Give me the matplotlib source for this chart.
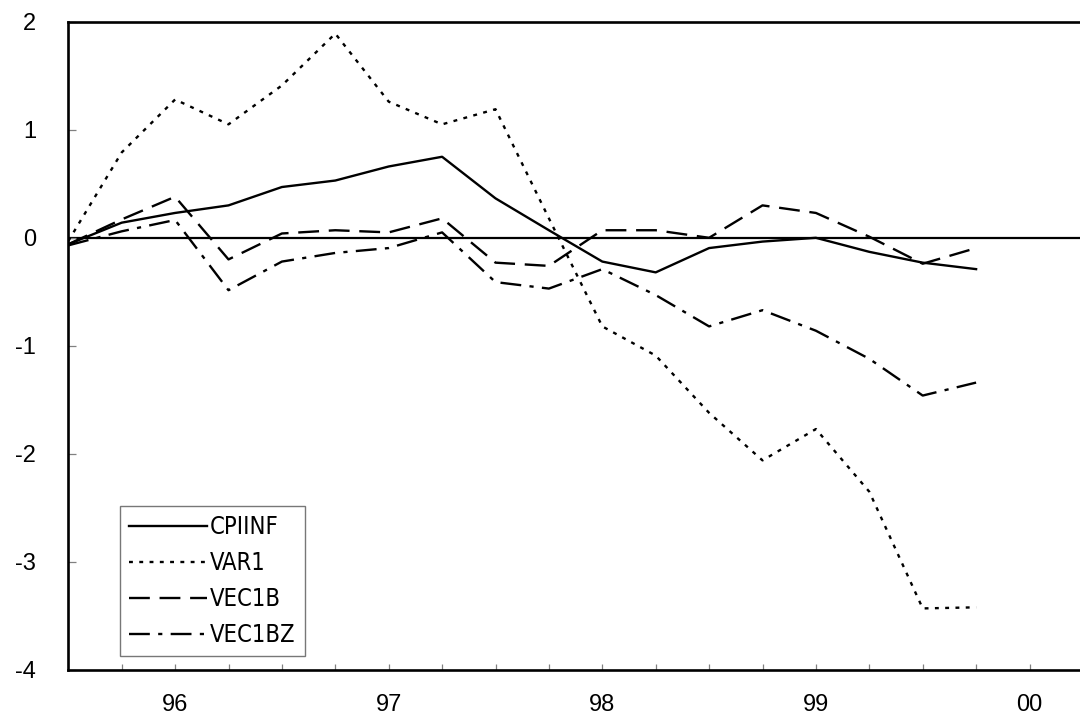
import matplotlib
matplotlib.use("Agg")
import matplotlib.pyplot as plt
from matplotlib.ticker import FixedLocator

# Quarterly observations, 1995Q3 .. 1999Q4 (index 0 = 1995Q3)
quarters = list(range(18))
year_tick_pos = [2, 6, 10, 14, 18]
year_labels = ["96", "97", "98", "99", "00"]
minor_tick_pos = [1, 3, 4, 5, 7, 8, 9, 11, 12, 13, 15, 16, 17]
y_ticks = [-4, -3, -2, -1, 0, 1, 2]

CPIINF = [-0.06, 0.14, 0.23, 0.30, 0.47, 0.53, 0.66, 0.75, 0.365, 0.07,
          -0.22, -0.32, -0.095, -0.035, 0.0, -0.13, -0.23, -0.29]
VAR1 = [-0.03, 0.79, 1.28, 1.05, 1.41, 1.89, 1.26, 1.05, 1.19, 0.18,
        -0.82, -1.09, -1.62, -2.06, -1.77, -2.35, -3.43, -3.42]
VEC1B = [-0.06, 0.17, 0.38, -0.20, 0.04, 0.07, 0.05, 0.18, -0.23, -0.26,
         0.07, 0.07, 0.0, 0.30, 0.23, 0.01, -0.24, -0.095]
VEC1BZ = [-0.07, 0.06, 0.165, -0.485, -0.22, -0.14, -0.095, 0.05, -0.41, -0.47,
          -0.29, -0.53, -0.82, -0.67, -0.86, -1.12, -1.46, -1.34]

plt.rcParams['font.family'] = ['Liberation Sans', 'DejaVu Sans']
plt.rcParams['lines.scale_dashes'] = False

W, H = 1080, 717
fig = plt.figure(figsize=(W / 100, H / 100), dpi=100)
x0, ytop, ybot = 68.3, 21.7, 670.0
qw = 53.4
ax = fig.add_axes([x0 / W, (H - ybot) / H, 19 * qw / W, (ybot - ytop) / H])
ax.set_xlim(0, 19)
ax.set_ylim(-4, 2)

lw = 1.7
ax.axhline(0, color='black', lw=1.6, zorder=1)
ax.plot(quarters, CPIINF, color='black', lw=lw, ls='-', label='CPIINF', zorder=3)
ax.plot(quarters, VAR1, color='black', lw=lw, ls=(0, (2.8, 4.6)), label='VAR1', zorder=3)
ax.plot(quarters, VEC1B, color='black', lw=lw, ls=(0, (15, 7)), label='VEC1B', zorder=3)
ax.plot(quarters, VEC1BZ, color='black', lw=lw, ls=(0, (15, 6, 3, 6)), label='VEC1BZ', zorder=3)

for s in ['left', 'bottom', 'top']:
    ax.spines[s].set_linewidth(1.9)
ax.spines['right'].set_visible(False)

ax.xaxis.set_major_locator(FixedLocator(year_tick_pos))
ax.xaxis.set_minor_locator(FixedLocator(minor_tick_pos))
ax.set_xticklabels(year_labels)
ax.yaxis.set_major_locator(FixedLocator(y_ticks))
ax.set_yticklabels([str(v) for v in y_ticks])

ax.tick_params(axis='x', which='both', direction='in', length=4.5, width=0.9,
               color='#808080', top=False)
ax.tick_params(axis='x', which='major', labelsize=17, pad=17.5)
ax.tick_params(axis='y', which='major', direction='in', length=5.5, width=0.9,
               color='#808080', labelsize=17, pad=23, right=False)

leg = ax.legend(loc='upper left', bbox_to_anchor=(120 / W, 1 - 506 / H),
                bbox_transform=fig.transFigure, borderaxespad=0,
                frameon=True, fancybox=False, shadow=False,
                prop={'family': ['DejaVu Sans'], 'stretch': 'condensed', 'size': 17},
                handlelength=3.3, handletextpad=0.1, labelspacing=0.5,
                borderpad=0.4)
leg.get_frame().set_edgecolor('#555555')
leg.get_frame().set_linewidth(1.0)

fig.savefig('out.png', dpi=100)
